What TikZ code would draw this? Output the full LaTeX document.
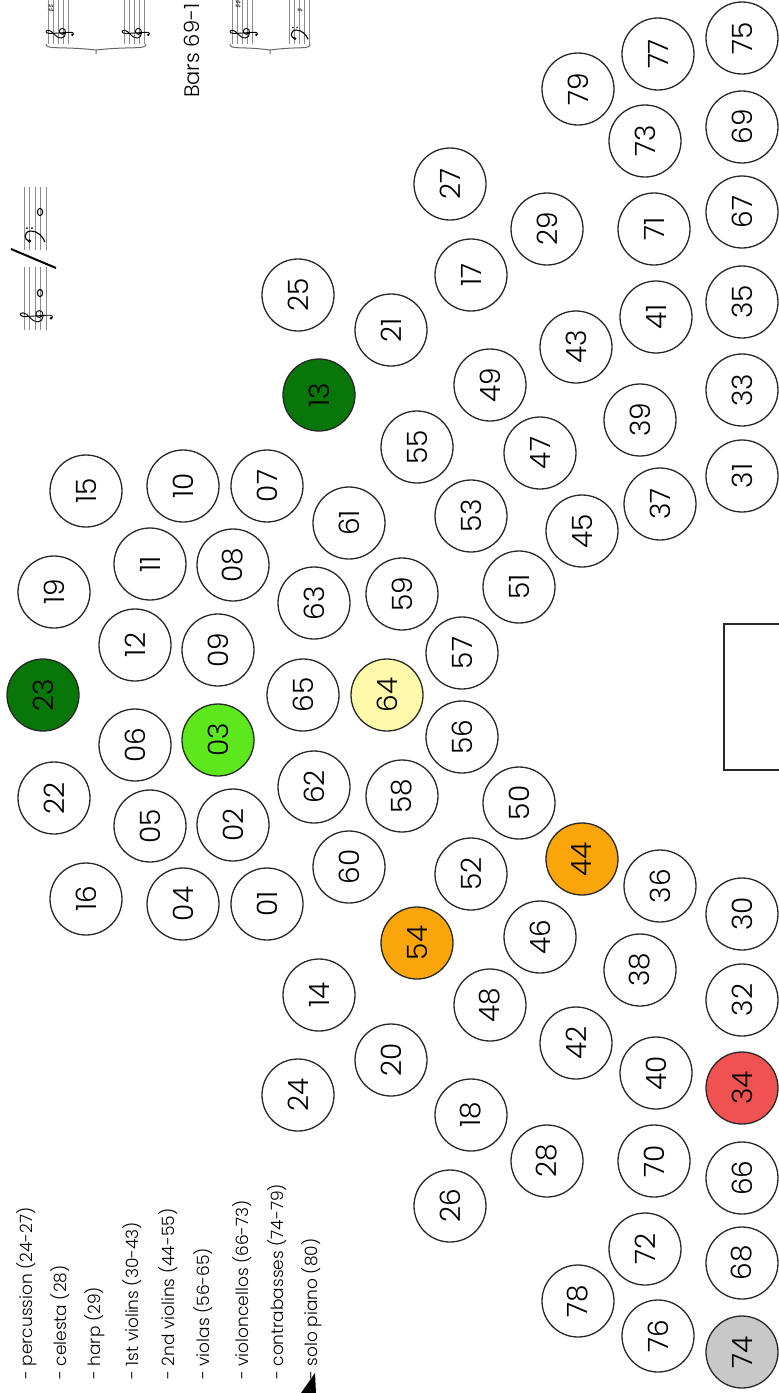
\documentclass[tikz,border=0pt]{standalone}
\usepackage{fontspec}
\IfFontExistsTF{Poppins Light}{\setmainfont{Poppins Light}}{\setmainfont{Poppins}}
\newfontfamily\symfont{DejaVu Sans}
\definecolor{dkgreen}{RGB}{8,118,8}
\definecolor{ltgreen}{RGB}{92,232,28}
\definecolor{ltyellow}{RGB}{255,250,170}
\definecolor{orng}{RGB}{250,165,10}
\definecolor{redc}{RGB}{240,82,82}
\definecolor{grayc}{RGB}{200,200,200}
\definecolor{ring}{RGB}{40,40,40}
% clef drawings: #1 = x of bottom staff line, #2 = y of clef centre, #3 = scale
\newcommand\mytreble[3]{%
  \begin{scope}[shift={(#1,#2)}, rotate=90, yscale=-1, scale=#3]
    \fill (-2.2,-5) circle (1.4);
    \draw[line width=0.9pt] (-2.2,-5) .. controls (-1,-8) and (1.5,-6) .. (0.8,-1)
      -- (-0.6,21) .. controls (-0.8,26) and (3.2,28) .. (3.2,23)
      .. controls (3.2,18) and (-6,15) .. (-6,8)
      .. controls (-6,2) and (5.5,1) .. (5.5,6.5)
      .. controls (5.5,11) and (-1.5,11.5) .. (-1.5,6.5)
      .. controls (-1.5,4.5) and (0.5,4) .. (1.2,4.5);
  \end{scope}}
\newcommand\mybass[3]{%
  \begin{scope}[shift={(#1,#2)}, rotate=90, yscale=-1, scale=#3]
    \fill (-3,16.5) circle (1.8);
    \draw[line width=1.1pt] (-3,16.5) .. controls (-3,22) and (7,23) .. (7,15)
      .. controls (7,8) and (1,3) .. (-4,1);
    \fill (10,19) circle (1) (10,14) circle (1);
  \end{scope}}
\begin{document}
\begin{tikzpicture}[x=1pt,y=-1pt,
  seat/.style={circle, draw=ring, line width=1.3pt, minimum size=72pt, inner sep=0pt, rotate=90, font=\fontsize{28}{28}\selectfont},
  legendtxt/.style={rotate=90, anchor=west, inner sep=0pt, font=\fontsize{17}{17}\selectfont},
  staffline/.style={draw=black!45, line width=0.6pt},
  accid/.style={rotate=90, inner sep=0pt, font=\symfont\fontsize{9}{9}\selectfont}]
\useasboundingbox (0,0) rectangle (779,1393);
\fill[white] (0,0) rectangle (779,1393);
% conductor / podium
\draw[draw=ring, line width=1.3pt] (724,624) rectangle (790,770);
% seats
\foreach \n/\x/\y in {07/267/486,01/267/904,08/233/565,02/233/825,09/218/650,
  10/183/486,04/183/904,11/150/564,05/150/826,12/135/645,06/135/745,
  15/86/491,16/86/899,19/54/592,22/54/798,
  14/319/995,25/298/295,24/298/1095,21/391/330,20/391/1060,
  27/450/184,26/450/1206,17/471/275,18/471/1115,29/547/229,28/547/1161,
  79/578/89,78/578/1301,43/576/347,42/576/1043,49/490/385,48/490/1005,
  55/417/447,47/540/453,46/540/937,61/349/523,60/349/867,53/471/516,52/471/874,
  45/582/531,63/314/603,62/314/787,59/402/594,58/402/796,51/519/587,50/519/803,
  57/462/653,56/462/737,65/303/695,
  77/658/54,76/658/1336,73/645/141,72/645/1249,71/654/229,70/654/1161,
  41/656/317,40/656/1073,39/640/420,38/640/970,37/660/504,36/660/886,
  69/742/127,68/742/1263,67/742/212,66/742/1178,35/742/302,
  33/742/390,32/742/1000,31/742/476,30/742/914}
  \node[seat] (s\n) at (\x,\y) {\n};
\node[seat, fill=dkgreen] (s23) at (43,695) {23};
\node[seat, fill=dkgreen] (s13) at (319,395) {13};
\node[seat, fill=ltgreen] (s03) at (218,740) {03};
\node[seat, fill=ltyellow] (s64) at (387,695) {64};
\node[seat, fill=orng] (s54) at (417,943) {54};
\node[seat, fill=orng] (s44) at (582,859) {44};
\node[seat, fill=redc] (s34) at (742,1088) {34};
\node[seat, fill=grayc] (s74) at (742,1352) {74};
\node[seat] (s75) at (742,38) {75};
% legend
\node[legendtxt] (l1) at (27,1380) {- percussion (24-27)};
\node[legendtxt] (l2) at (60,1380) {- celesta (28)};
\node[legendtxt] (l3) at (95,1380) {- harp (29)};
\node[legendtxt] (l4) at (132,1380) {- 1st violins (30-43)};
\node[legendtxt] (l5) at (168,1380) {- 2nd violins (44-55)};
\node[legendtxt] (l6) at (203,1380) {- violas (56-65)};
\node[legendtxt] (l7) at (242,1380) {- violoncellos (66-73)};
\node[legendtxt] (l8) at (277,1380) {- contrabasses (74-79)};
\node[legendtxt] (l9) at (312,1380) {- solo piano (80)};
\fill[black] (301,1393) -- (315,1373) -- (316,1393) -- cycle;
% bars label
\node[legendtxt, font=\fontsize{21}{21}\selectfont] (bars) at (192,98) {Bars 69-1};
% music excerpts: top staves
\foreach \s in {48,124,232,289}{
  \foreach \k in {0,...,4}{\draw[staffline] ({\s+\k*5},-5) -- ({\s+\k*5},44);}
}
\draw[black!60, line width=1pt] (46,44) .. controls (46,50) and (60,46) .. (96,50) -- (96,54)
  (96,50) .. controls (132,46) and (146,50) .. (146,44);
\draw[black!60, line width=1pt] (230,44) .. controls (230,50) and (240,46) .. (270,50) -- (270,54)
  (270,50) .. controls (300,46) and (310,50) .. (310,44);
\mytreble{68}{33}{0.85}
\mytreble{144}{33}{0.85}
\mytreble{252}{33}{0.85}
\mybass{309}{36}{0.85}
\node[accid] (a1) at (51,8) {♯♯};
\node[accid] (a2) at (238,4) {♯♯};
\node[accid] (a3) at (300,10) {♯};
% music excerpt: clef change
\foreach \k in {0,...,4}{
  \draw[staffline] ({24+\k*5.5},187) -- ({24+\k*5.5},250);
  \draw[staffline] ({24+\k*5.5},267) -- ({24+\k*5.5},330);}
\mybass{46}{238}{1}
\mytreble{46}{316}{1}
\draw[line width=1.1pt] (40,212) ellipse (2.6 and 3.6);
\draw[line width=1.1pt] (40,293) ellipse (2.6 and 3.6);
\draw[line width=2pt] (11,249) -- (56,268);
\end{tikzpicture}
\end{document}
